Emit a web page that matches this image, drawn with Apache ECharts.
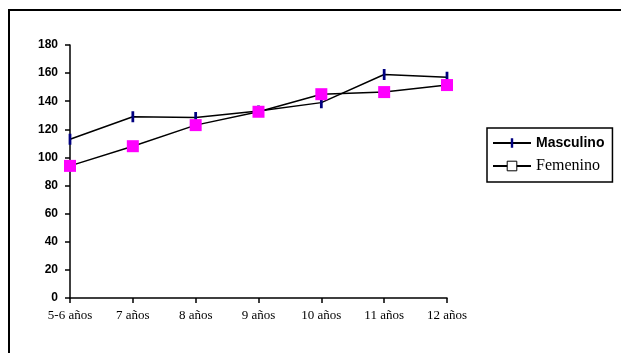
<!DOCTYPE html>
<html><head><meta charset="utf-8">
<script src="https://cdn.jsdelivr.net/npm/echarts@6/dist/echarts.min.js"></script>
<style>html,body{margin:0;padding:0;background:#fff}#c{width:621px;height:353px}</style>
</head><body><div id="c"></div>
<script>
const categories = ['5-6 años','7 años','8 años','9 años','10 años','11 años','12 años'];
const masculino = [113, 129, 128.5, 133, 139, 159, 157];
const femenino = [94, 108, 123, 132.5, 145, 146.5, 151.5];
const yTicks = [0, 20, 40, 60, 80, 100, 120, 140, 160, 180];

const barSymbol = 'path://M0 0H4V0H0Z M1.5 0H2.5V4H1.5Z';

const chart = echarts.init(document.getElementById('c'), null, {renderer:'canvas'});
chart.setOption({
  animation:false,
  backgroundColor:'#fff',
  graphic:[
    {type:'polyline', shape:{points:[[9,360],[9,10],[630,10]]}, style:{stroke:'#000', lineWidth:2, fill:null}}
  ],
  grid:{left:70, right:174, top:45, bottom:55, containLabel:false},
  legend:{
    orient:'vertical', left:487, top:128,
    backgroundColor:'#fff', borderColor:'#000', borderWidth:1.5,
    padding:[8,8,8,5], itemWidth:38, itemHeight:12, itemGap:8,
    data:[
      {name:'Masculino', textStyle:{fontFamily:'Liberation Sans, Arial', fontWeight:'bold', fontSize:14, color:'#000'}},
      {name:'Femenino', itemStyle:{color:'#fff', borderColor:'#000', borderWidth:1}, textStyle:{fontFamily:'Liberation Serif, Times New Roman', fontSize:16, color:'#000'}}
    ]
  },
  xAxis:{
    type:'category', data:categories, boundaryGap:false,
    axisLine:{lineStyle:{color:'#000', width:1.5}},
    axisTick:{alignWithLabel:true, length:5, lineStyle:{color:'#000', width:1.5}},
    axisLabel:{fontFamily:'Liberation Serif, Times New Roman', fontSize:13, color:'#000', margin:11, interval:0}
  },
  yAxis:{
    type:'value', min:yTicks[0], max:yTicks[yTicks.length-1], interval:20,
    axisLine:{show:true, lineStyle:{color:'#000', width:1.5}},
    axisTick:{show:true, length:5, lineStyle:{color:'#000', width:1.5}},
    splitLine:{show:false},
    axisLabel:{fontFamily:'Liberation Sans, Arial', fontWeight:'bold', fontSize:12, color:'#000', margin:12}
  },
  series:[
    {name:'Masculino', type:'line', data:masculino, symbol:barSymbol, symbolSize:11,
     itemStyle:{color:'#000080', borderWidth:0}, lineStyle:{color:'#000', width:1.5}},
    {name:'Femenino', type:'line', data:femenino, symbol:'rect', symbolSize:12,
     itemStyle:{color:'#ff00ff', borderWidth:0}, lineStyle:{color:'#000', width:1.5}}
  ]
});
</script></body></html>
